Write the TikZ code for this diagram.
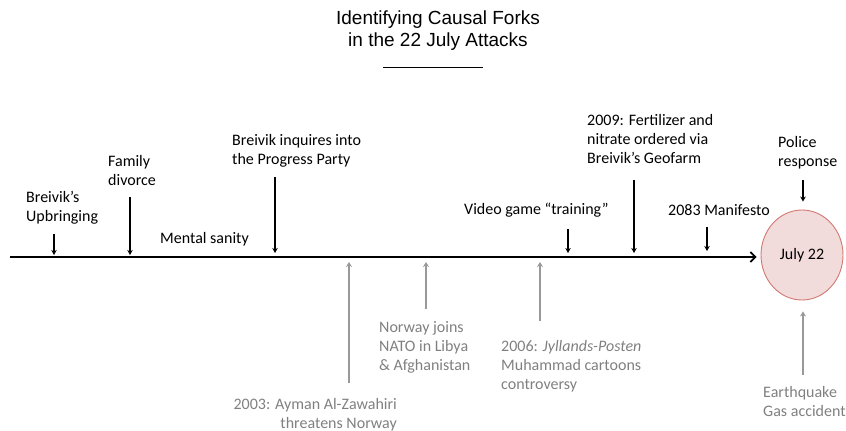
\documentclass[tikz,border=0pt]{standalone}
\usepackage{fontspec}
\setmainfont{Carlito}
\newfontfamily\titlefont{Liberation Sans}
\usetikzlibrary{arrows.meta, positioning, calc, shapes.geometric}
\definecolor{daypink}{RGB}{242, 220, 219}
\definecolor{dayred}{RGB}{210, 120, 115}
\definecolor{forkgray}{RGB}{128, 128, 128}

\begin{document}
\begin{tikzpicture}[
        x=1pt, y=-1pt,
        ev/.style={font=\fontsize{16}{19}\selectfont, align=left, inner sep=0pt},
        cause/.style={ev, text=forkgray},
        darr/.style={-{Stealth[length=5pt, width=5.5pt]}, line width=1.8pt},
        garr/.style={-{Stealth[length=5pt, width=6pt]}, line width=2.4pt, draw=black!40},
        axarr/.style={-{Straight Barb[length=5pt, width=10pt]}, line width=1.8pt}
    ]
        \useasboundingbox (0,0) rectangle (846,431);

        % Title
        \node[font=\titlefont\fontsize{19}{22}\selectfont, align=center, inner sep=0pt, anchor=north] (title) at (438, 11) {Identifying Causal Forks\\in the 22 July Attacks};
        \draw[line width=0.9pt] (383,67) -- (483,67);

        % Timeline
        \coordinate (axisL) at (10, 257);
        \node[ellipse, draw=dayred, fill=daypink, line width=0.9pt, minimum width=82pt, minimum height=90pt, ev] (jul) at (802, 255) {July 22};
        \draw[axarr] (axisL) -- (axisL -| jul.west) [shorten >=4pt];

        % Events above the line
        \node[ev, anchor=north west] (upb) at (26, 191) {Breivik’s\\Upbringing};
        \node[ev, anchor=north west] (div) at (108, 155) {Family\\divorce};
        \node[ev, anchor=north west] (sane) at (160, 232) {Mental sanity};
        \node[ev, anchor=north west] (prog) at (232, 134) {Breivik inquires into\\the Progress Party};
        \node[ev, anchor=north west] (game) at (464, 203) {Video game “training”};
        \node[ev, anchor=north west] (geo) at (587, 114) {2009: Fertilizer and\\nitrate ordered via\\Breivik’s Geofarm};
        \node[ev, anchor=north west] (mani) at (668, 204) {2083 Manifesto};
        \node[ev, anchor=north west] (pol) at (778, 136) {Police\\response};

        % Outside causes below the line
        \node[cause, anchor=north east, align=right] (zaw) at (397, 398) {2003: Ayman Al-Zawahiri\\threatens Norway};
        \node[cause, anchor=north west] (nato) at (379, 321) {Norway joins\\NATO in Libya\\\& Afghanistan};
        \node[cause, anchor=north west] (cart) at (501, 340) {2006: \textit{Jyllands-Posten}\\Muhammad cartoons\\controversy};
        \node[cause, anchor=north west] (quake) at (763, 386) {Earthquake\\Gas accident};

        % Arrow tails
        \coordinate (upb-a) at (54, 234);
        \coordinate (div-a) at (130, 197);
        \coordinate (prog-a) at (275, 177);
        \coordinate (game-a) at (568, 229);
        \coordinate (geo-a) at (634, 180);
        \coordinate (mani-a) at (707, 227);
        \coordinate (pol-a) at (803, 180);
        \coordinate (zaw-a) at (349, 383);
        \coordinate (nato-a) at (426, 309);
        \coordinate (cart-a) at (540, 321);
        \coordinate (quake-a) at (803, 375);

        % Arrows
        \draw[darr, shorten >=2pt] (upb-a) -- (upb-a |- axisL);
        \draw[darr, shorten >=2pt] (div-a) -- (div-a |- axisL);
        \draw[darr, shorten >=4pt] (prog-a) -- (prog-a |- axisL);
        \draw[darr, shorten >=4pt] (game-a) -- (game-a |- axisL);
        \draw[darr, shorten >=4pt] (geo-a) -- (geo-a |- axisL);
        \draw[darr, shorten >=6pt] (mani-a) -- (mani-a |- axisL);
        \draw[darr, shorten >=8pt] (pol-a) -- (pol-a |- jul.north);
        \draw[garr, shorten >=5pt] (zaw-a) -- (zaw-a |- axisL);
        \draw[garr, shorten >=5pt] (nato-a) -- (nato-a |- axisL);
        \draw[garr, shorten >=5pt] (cart-a) -- (cart-a |- axisL);
        \draw[garr, shorten >=11pt] (quake-a) -- (quake-a |- jul.south);
    \end{tikzpicture}
\end{document}
